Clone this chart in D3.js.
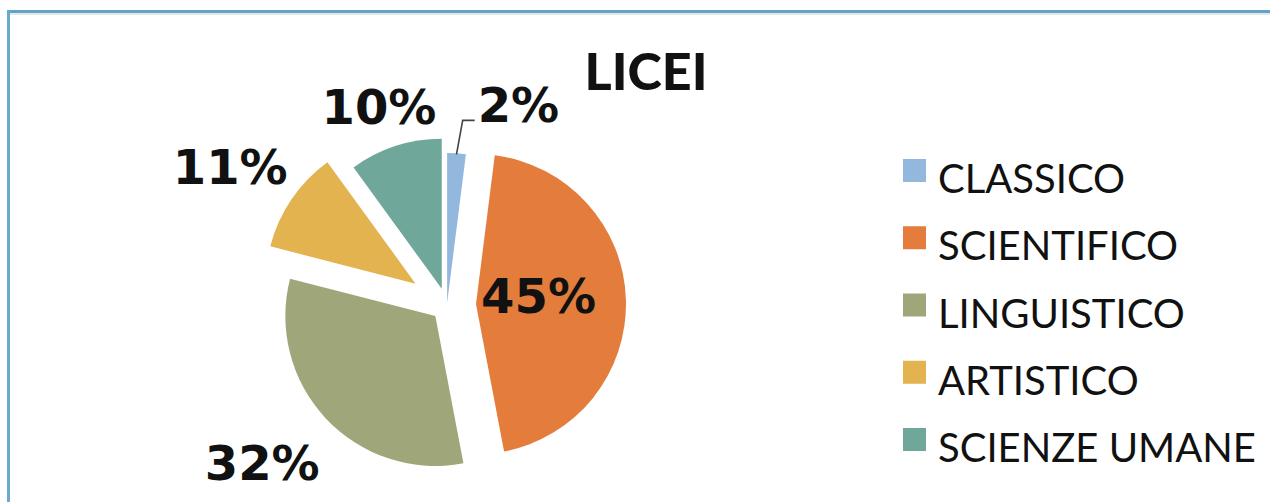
<!DOCTYPE html>
<html>
  <head>
    <meta charset="utf-8">
    <title>LICEI</title>
    <script src="https://d3js.org/d3.v7.min.js"></script>
    <style>
      body { margin: 0; background: #fff; }
      #chart { display: block; }
      .pct { font-family: "DejaVu Sans", sans-serif; font-weight: bold; font-size: 48px; fill: #111; }
      .title { font-family: Lato, sans-serif; font-weight: 900; font-size: 52px; fill: #111; }
      .legend text { font-family: Lato, sans-serif; font-size: 40px; fill: #111; }
    </style>
  </head>
  <body>
    <svg id="chart" width="1270" height="502">
      <g id="frame"></g>
      <g id="pieGroup"></g>
      <g id="labelGroup"></g>
      <g id="legendGroup" class="legend"></g>
    </svg>
    <script>
      // chart data
      categories = ["CLASSICO", "SCIENTIFICO", "LINGUISTICO", "ARTISTICO", "SCIENZE UMANE"];
      shares = [2, 45, 32, 11, 10];
      colours = ["#93b8dd", "#e47d3c", "#9fa77a", "#e2b34f", "#6fa79b"];

      // look of the pie (explosion per slice, label placement in degrees / px from centre)
      centre = { x: 447, y: 305 };
      radius = 150;
      explode = [2, 29, 16, 38, 17];
      labelShift = [16, -4, 2.7, -1.7, -0.9];
      labelDist = [213, 92, 243, 257, 210];

      chart = d3.select("#chart");
      width = 1270;
      height = 502;

      // frame: blue line at top and left, like the cropped original
      frame = d3.select("#frame");
      frame.append("line")
        .attr("x1", 7).attr("x2", width).attr("y1", 14).attr("y2", 14)
        .attr("stroke", "#e6e6e6").attr("stroke-width", 2);
      frame.append("line")
        .attr("x1", 7).attr("x2", width).attr("y1", 11.5).attr("y2", 11.5)
        .attr("stroke", "#5fa5c8").attr("stroke-width", 3);
      frame.append("line")
        .attr("x1", 8.5).attr("x2", 8.5).attr("y1", 10).attr("y2", height)
        .attr("stroke", "#6aaacb").attr("stroke-width", 3);

      pie = d3.pie().sort(null).value(function(d) { return d; });
      arc = d3.arc().innerRadius(0).outerRadius(radius);
      slices = pie(shares);

      function dir(a) { return [Math.sin(a), -Math.cos(a)]; }
      function mid(d) { return (d.startAngle + d.endAngle) / 2; }

      pieGroup = d3.select("#pieGroup")
        .attr("transform", "translate(" + centre.x + "," + centre.y + ")");
      pieGroup.selectAll(".slice")
        .data(slices)
        .enter()
        .append("path")
          .attr("class", "slice")
          .attr("fill", function(d, i) { return colours[i]; })
          .attr("transform", function(d, i) {
            let v = dir(mid(d));
            return "translate(" + v[0] * explode[i] + "," + v[1] * explode[i] + ")";
          })
          .attr("d", arc);

      // percentage labels
      labelData = slices.map(function(d, i) {
        let a = mid(d) + labelShift[i] * Math.PI / 180;
        let v = dir(a);
        return { text: shares[i] + "%", x: centre.x + v[0] * labelDist[i], y: centre.y + v[1] * labelDist[i], i: i };
      });
      labelGroup = d3.select("#labelGroup");
      labels = labelGroup.selectAll(".pct")
        .data(labelData)
        .enter()
        .append("text")
          .attr("class", "pct")
          .attr("text-anchor", "middle")
          .attr("x", function(d) { return d.x; })
          .attr("y", function(d) { return d.y; })
          .attr("dy", "0.36em")
          .text(function(d) { return d.text; });

      // leader line for the small slice
      labels.filter(function(d) { return d.i == 0; }).each(function(d) {
        let box = this.getBBox();
        let s = slices[0];
        let v = dir(mid(s));
        let start = [centre.x + v[0] * (explode[0] + radius - 1), centre.y + v[1] * (explode[0] + radius - 1)];
        let yEnd = d.y + 16;
        let xEnd = box.x - 3;
        labelGroup.append("path")
          .attr("fill", "none")
          .attr("stroke", "#444")
          .attr("stroke-width", 1.6)
          .attr("d", "M" + start[0] + "," + start[1] + "L" + (xEnd - 12) + "," + yEnd + "L" + xEnd + "," + yEnd);
      });

      // title
      chart.append("text")
        .attr("class", "title")
        .attr("x", 646)
        .attr("y", 90)
        .attr("text-anchor", "middle")
        .text("LICEI");

      // legend
      legend = d3.select("#legendGroup");
      rows = legend.selectAll(".row")
        .data(categories)
        .enter()
        .append("g")
          .attr("class", "row")
          .attr("transform", function(d, i) { return "translate(903," + (193 + i * 67.25) + ")"; });
      rows.append("rect")
        .attr("x", 0)
        .attr("y", -34)
        .attr("width", 23)
        .attr("height", 23)
        .attr("fill", function(d, i) { return colours[i]; });
      rows.append("text")
        .attr("x", 35)
        .attr("y", 0)
        .text(function(d) { return d; });
    </script>
  </body>
</html>
